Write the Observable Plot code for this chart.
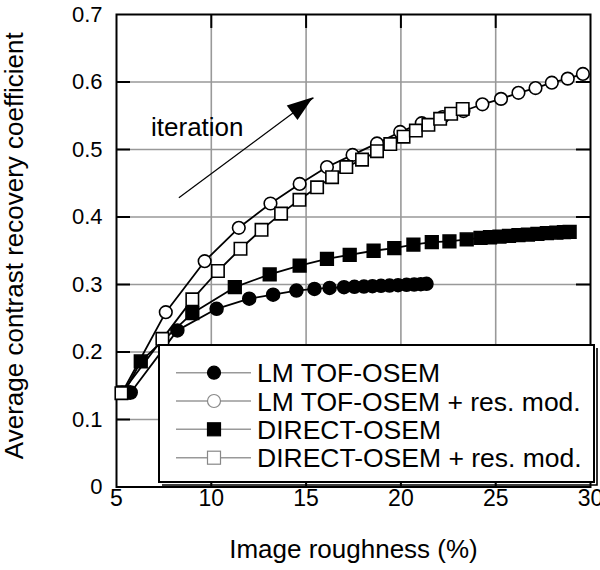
<!DOCTYPE html>
<html><head><meta charset="utf-8">
<script src="https://cdn.jsdelivr.net/npm/d3@7"></script>
<script src="https://cdn.jsdelivr.net/npm/@observablehq/plot@0.6"></script>
<style>body{margin:0;background:#fff;} #chart{width:600px;height:570px;}</style>
</head><body><div id="chart"></div>
<script>
// ---- data ----
const seriesNames = ["LM TOF-OSEM", "LM TOF-OSEM + res. mod.", "DIRECT-OSEM", "DIRECT-OSEM + res. mod."];

const lmX = [5.75, 8.21, 10.28, 12.0, 13.26, 14.49, 15.44, 16.24, 17.0, 17.55, 18.05, 18.5, 18.95, 19.4, 19.85, 20.3, 20.7, 21.05, 21.35];
const lmY = [0.140, 0.232, 0.264, 0.279, 0.285, 0.291, 0.2935, 0.295, 0.296, 0.2965, 0.297, 0.2975, 0.298, 0.2985, 0.299, 0.2995, 0.300, 0.3005, 0.301];

const lmResX = [5.3, 7.6, 9.65, 11.45, 13.12, 14.66, 16.1, 17.45, 18.74, 19.96, 21.1, 22.2, 23.3, 24.3, 25.28, 26.2, 27.1, 27.96, 28.8, 29.6];
const lmResY = [0.140, 0.259, 0.3345, 0.384, 0.420, 0.449, 0.474, 0.492, 0.509, 0.526, 0.539, 0.548, 0.557, 0.567, 0.575, 0.584, 0.591, 0.599, 0.605, 0.612];

const dirX = [5.4, 6.28, 9.0, 11.24, 13.08, 14.66, 16.1, 17.3, 18.56, 19.65, 20.66, 21.63, 22.56, 23.47, 24.2, 24.7, 25.2, 25.7, 26.2, 26.7, 27.2, 27.7, 28.2, 28.6, 28.9];
const dirY = [0.140, 0.186, 0.2575, 0.296, 0.315, 0.328, 0.338, 0.344, 0.350, 0.354, 0.359, 0.3627, 0.364, 0.3667, 0.369, 0.370, 0.371, 0.372, 0.373, 0.374, 0.375, 0.376, 0.377, 0.3775, 0.378];

const dirResX = [5.26, 7.42, 9.0, 10.35, 11.54, 12.65, 13.68, 14.65, 15.58, 16.37, 17.12, 17.95, 18.74, 19.44, 20.14, 20.79, 21.45, 22.07, 22.65, 23.26];
const dirResY = [0.139, 0.2195, 0.278, 0.320, 0.353, 0.381, 0.405, 0.4255, 0.444, 0.459, 0.474, 0.485, 0.4975, 0.508, 0.519, 0.528, 0.5366, 0.5455, 0.553, 0.560];

const xTicks = [5, 10, 15, 20, 25, 30];
const yTicks = [0, 0.1, 0.2, 0.3, 0.4, 0.5, 0.6, 0.7];
const yTickLabels = ["0", "0.1", "0.2", "0.3", "0.4", "0.5", "0.6", "0.7"];

const arrowFrom = [8.29, 0.4285];
const arrowTo = [15.39, 0.5767];
const iterLabel = {x: 9.26, y: 0.5326, text: "iteration"};

const xTitle = "Image roughness (%)";
const yTitle = "Average contrast recovery coefficient";

// ---- build ----
const toRows = (xs, ys) => xs.map((x, i) => ({x, y: ys[i]}));
const lm = toRows(lmX, lmY), lmRes = toRows(lmResX, lmResY), dir = toRows(dirX, dirY), dirRes = toRows(dirResX, dirResY);

const FONT = "'Liberation Sans', Arial, Helvetica, sans-serif";
const xIn = xTicks.slice(1, -1), yIn = yTicks.slice(1, -1);

const plot = Plot.plot({
  width: 600, height: 570,
  marginLeft: 116, marginRight: 10, marginTop: 14, marginBottom: 83.5,
  x: {domain: [5, 30]},
  y: {domain: [0, 0.7]},
  style: {fontFamily: FONT, background: "white", color: "black"},
  marks: [
    Plot.ruleX(xIn, {stroke: "#999", strokeWidth: 1.6}),
    Plot.ruleY(yIn, {stroke: "#999", strokeWidth: 1.6}),
    // inward ticks
    Plot.ruleY(yIn, {x1: 5, x2: 5.74, stroke: "black", strokeWidth: 2}),
    Plot.ruleY(yIn, {x1: 29.26, x2: 30, stroke: "black", strokeWidth: 2}),
    Plot.ruleX(xIn, {y1: 0, y2: 0.0207, stroke: "black", strokeWidth: 2}),
    Plot.ruleX(xIn, {y1: 0.6793, y2: 0.7, stroke: "black", strokeWidth: 2}),
    Plot.frame({stroke: "black", strokeWidth: 2}),
    Plot.axisX({ticks: xTicks, tickSize: 0, tickPadding: 3, fontSize: 23, label: null}),
    Plot.axisY({ticks: yTicks, tickSize: 0, tickPadding: 14, fontSize: 22, label: null,
      tickFormat: d => yTickLabels[yTicks.indexOf(d)] ?? d}),
    Plot.text([xTitle], {frameAnchor: "bottom", dy: 63, fontSize: 26, lineAnchor: "middle", textAnchor: "middle"}),
    Plot.text([yTitle], {frameAnchor: "left", dx: -102, dy: -5, rotate: -90, fontSize: 26, lineAnchor: "middle", textAnchor: "middle"}),
    // annotation
    Plot.text([iterLabel], {x: "x", y: "y", text: "text", fontSize: 26, lineAnchor: "middle"}),
    Plot.link([{}], {x1: arrowFrom[0], y1: arrowFrom[1], x2: arrowTo[0], y2: arrowTo[1], stroke: "black", strokeWidth: 1.2}),
    // series
    Plot.line(lm, {x: "x", y: "y", stroke: "black", strokeWidth: 1.8}),
    Plot.dot(lm, {x: "x", y: "y", r: 6.5, fill: "black", stroke: "black"}),
    Plot.line(dir, {x: "x", y: "y", stroke: "black", strokeWidth: 1.8}),
    Plot.dot(dir, {x: "x", y: "y", symbol: "square", r: 7.2, fill: "black", stroke: "black"}),
    Plot.line(lmRes, {x: "x", y: "y", stroke: "black", strokeWidth: 1.8}),
    Plot.dot(lmRes, {x: "x", y: "y", r: 6.3, fill: "white", stroke: "black", strokeWidth: 1.6}),
    Plot.line(dirRes, {x: "x", y: "y", stroke: "black", strokeWidth: 1.8}),
    Plot.dot(dirRes, {x: "x", y: "y", symbol: "square", r: 7.0, fill: "white", stroke: "black", strokeWidth: 1.6})
  ]
});

const svg = d3.select(plot);
const sx = plot.scale("x"), sy = plot.scale("y");
// arrow head
{
  const x1 = sx.apply(arrowFrom[0]), y1 = sy.apply(arrowFrom[1]);
  const x2 = sx.apply(arrowTo[0]), y2 = sy.apply(arrowTo[1]);
  const dx = x2 - x1, dy = y2 - y1, L = Math.hypot(dx, dy);
  const ux = dx / L, uy = dy / L, px = -uy, py = ux;
  const len = 26, half = 9;
  const bx = x2 - ux * len, by = y2 - uy * len;
  svg.append("polygon")
    .attr("points", [[x2, y2], [bx + px * half, by + py * half], [bx - px * half, by - py * half]].map(p => p.join(",")).join(" "))
    .attr("fill", "black");
}
// legend
{
  const L = 159, T = 345, W = 435, H = 137;
  const g = svg.append("g").attr("font-family", FONT).attr("text-anchor", "start");
  g.append("polyline").attr("points", `${L + 3},${T + H + 3} ${L + W + 3},${T + H + 3} ${L + W + 3},${T + 3}`)
    .attr("fill", "none").attr("stroke", "black").attr("stroke-width", 1.6);
  g.append("rect").attr("x", L).attr("y", T).attr("width", W).attr("height", H)
    .attr("fill", "white").attr("stroke", "black").attr("stroke-width", 2);
  const rows = [372.7, 401, 429.3, 457.7];
  const sym = [
    {shape: "circle", fill: "black", stroke: "black"},
    {shape: "circle", fill: "white", stroke: "#888"},
    {shape: "square", fill: "black", stroke: "black"},
    {shape: "square", fill: "white", stroke: "#888"}
  ];
  seriesNames.forEach((name, i) => {
    const cy = rows[i];
    g.append("line").attr("x1", 176).attr("x2", 251).attr("y1", cy).attr("y2", cy)
      .attr("stroke", "#999").attr("stroke-width", 1.4);
    if (sym[i].shape === "circle") {
      g.append("circle").attr("cx", 214).attr("cy", cy).attr("r", 6.5)
        .attr("fill", sym[i].fill).attr("stroke", sym[i].stroke).attr("stroke-width", 1.2);
    } else {
      g.append("rect").attr("x", 214 - 6.5).attr("y", cy - 6.5).attr("width", 13).attr("height", 13)
        .attr("fill", sym[i].fill).attr("stroke", sym[i].stroke).attr("stroke-width", 1.2);
    }
    g.append("text").attr("x", 257).attr("y", cy).attr("dy", "0.36em").attr("text-anchor", "start")
      .attr("font-size", 26.5).attr("fill", "black").text(name);
  });
}
document.getElementById("chart").appendChild(plot);
</script>
</body></html>
